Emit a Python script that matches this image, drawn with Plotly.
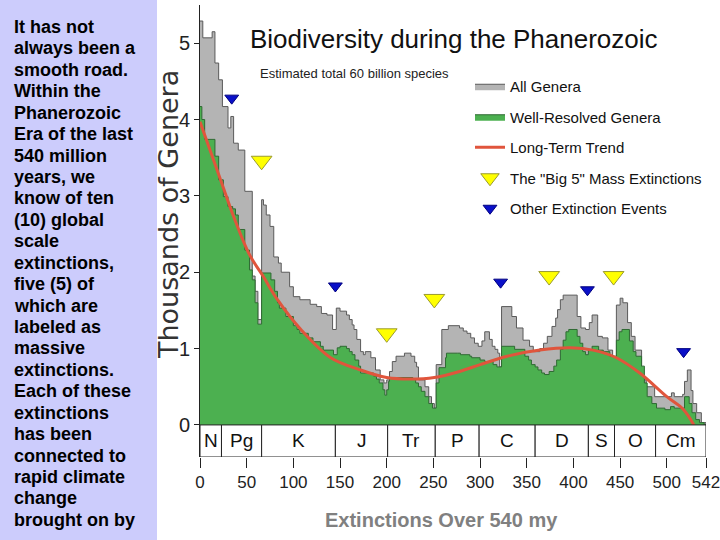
import plotly.graph_objects as go

# ---------------- data (ages in millions of years ago, values in thousands of genera)
all_age = [0, 3, 13, 16, 20, 24, 30, 33, 36, 41, 48, 56, 59, 62, 66, 68, 71, 75, 79, 84, 87, 96,
           100, 107, 118, 125, 130, 136, 142, 146, 150, 157, 160, 163, 165, 168, 172, 175, 177, 183,
           188, 193, 197, 200, 203, 206, 210, 219, 226, 230, 232, 234, 241, 245, 248, 251, 253, 259,
           266, 278, 282, 286, 290, 294, 298, 302, 305, 310, 313, 316, 319, 321, 323, 334, 339, 346,
           353, 357, 364, 368, 372, 377, 381, 383, 386, 389, 404, 408, 413, 417, 420, 426, 431, 437,
           442, 446, 450, 453, 458, 462, 466, 473, 478, 487, 500, 505, 508, 517, 519, 522, 526, 528,
           532, 537, 542]
all_val = [5.29, 5.07, 5.15, 4.74, 4.52, 4.17, 3.89, 4.04, 3.69, 3.60, 3.06, 1.95, 1.75, 1.38, 2.95,
           2.88, 2.75, 2.60, 2.20, 2.12, 2.00, 1.81, 1.68, 1.64, 1.58, 1.55, 1.46, 1.44, 1.25, 1.53,
           1.49, 1.44, 1.38, 1.31, 1.25, 1.12, 0.96, 0.92, 0.96, 0.88, 0.72, 0.59, 0.55, 0.59, 0.70,
           0.83, 0.90, 0.94, 0.90, 0.82, 0.76, 0.59, 0.50, 0.37, 0.28, 0.22, 0.79, 1.25, 1.30, 1.27,
           1.23, 1.20, 1.14, 1.07, 1.03, 1.10, 1.22, 1.12, 1.03, 0.99, 0.94, 0.76, 1.55, 1.42, 1.27,
           1.11, 1.03, 0.96, 1.00, 1.07, 1.16, 1.29, 1.40, 1.51, 1.64, 1.70, 1.42, 1.27, 1.25, 1.34,
           1.44, 1.16, 1.14, 0.98, 0.76, 1.57, 1.66, 1.60, 1.34, 1.16, 0.98, 0.59, 0.50, 0.37, 0.37,
           0.42, 0.37, 0.40, 0.57, 0.72, 0.45, 0.28, 0.16, 0.03, 0.0]

well_age = [0, 2, 5, 16, 20, 25, 30, 35, 38, 41, 48, 53, 56, 59, 62, 66, 76, 80, 83, 85, 92, 100,
            104, 107, 116, 121, 129, 132, 143, 147, 150, 157, 160, 163, 166, 170, 172, 186, 189, 192,
            196, 198, 200, 202, 203, 228, 231, 234, 237, 241, 245, 249, 253, 256, 263, 264, 276, 279,
            289, 291, 300, 305, 314, 318, 323, 337, 348, 352, 355, 359, 362, 366, 369, 374, 379, 382,
            386, 389, 392, 395, 404, 407, 410, 413, 416, 420, 427, 432, 439, 446, 449, 452, 460, 464,
            467, 473, 476, 479, 484, 489, 498, 504, 508, 519, 524, 527, 531, 535, 540, 542]
well_val = [4.17, 4.00, 3.74, 3.52, 3.21, 2.99, 2.86, 2.83, 2.75, 2.56, 2.29, 2.03, 1.90, 1.60, 1.32,
            1.99, 1.90, 1.75, 1.60, 1.53, 1.42, 1.30, 1.25, 1.20, 1.14, 1.09, 1.03, 0.98, 0.92, 1.01,
            1.03, 1.00, 0.96, 0.92, 0.85, 0.77, 0.68, 0.64, 0.60, 0.55, 0.46, 0.39, 0.46, 0.57, 0.62,
            0.60, 0.55, 0.50, 0.44, 0.37, 0.28, 0.22, 0.55, 0.75, 0.88, 0.94, 0.94, 0.92, 0.90, 0.88,
            0.85, 0.83, 0.79, 0.76, 1.03, 0.99, 0.90, 0.85, 0.79, 0.76, 0.72, 0.68, 0.66, 0.70, 0.77,
            0.85, 0.99, 1.11, 1.22, 1.25, 1.16, 1.07, 0.96, 0.92, 0.98, 1.03, 0.98, 0.96, 0.90, 1.11,
            1.22, 1.25, 1.10, 0.96, 0.90, 0.77, 0.55, 0.37, 0.28, 0.22, 0.20, 0.24, 0.22, 0.37, 0.28,
            0.16, 0.07, 0.03, 0.0, 0.0]

trend_age = [0, 22, 36, 53, 68, 83, 108, 140, 172, 200, 225, 251, 278, 300, 329, 364, 397, 421,
             446, 471, 500, 518, 529]
trend_val = [3.97, 3.21, 2.73, 2.23, 1.94, 1.64, 1.25, 0.88, 0.72, 0.62, 0.60, 0.62, 0.70, 0.79,
             0.90, 0.98, 1.01, 0.98, 0.88, 0.68, 0.37, 0.20, 0.0]

big5_age = [66, 200, 251, 374, 443]
big5_val = [3.46, 1.20, 1.65, 1.95, 1.95]

other_age = [34, 145, 322, 415, 518]
other_val = [4.28, 1.82, 1.87, 1.77, 0.96]

period_names = ["N", "Pg", "K", "J", "Tr", "P", "C", "D", "S", "O", "Cm"]
period_bounds = [0, 23, 66, 145, 201, 252, 299, 359, 416, 444, 488, 542]

x_ticks = [0, 50, 100, 150, 200, 250, 300, 350, 400, 450, 500, 542]
y_ticks = [0, 1, 2, 3, 4, 5]

left_lines = ["It has not", "always been a", "smooth road.", "Within the", "Phanerozoic",
              "Era of the last", "540 million", "years, we", "know of ten", "(10) global",
              "scale", "extinctions,", "five (5) of", "which are", "labeled as", "massive",
              "extinctions.", "Each of these", "extinctions", "has been", "connected to",
              "rapid climate", "change", "brought on by"]

# ---------------- layout helpers (pixel -> paper)
W, H = 720, 540
L, R, T, B = 200, 706, 5, 457
def pxx(x):
    return (x - L) / (R - L)
def pxy(y):
    return (B - y) / (B - T)

NARROW = "Liberation Sans, Arial, sans-serif"
ARIAL = "Liberation Sans, Arial, sans-serif"

fig = go.Figure()
fig.add_trace(go.Scatter(x=all_age, y=all_val, mode="lines", line_shape="hv", fill="tozeroy",
                         fillcolor="#b4b4b4", line=dict(color="#5a5a5a", width=1),
                         name="All Genera", legendgroup="a"))
fig.add_trace(go.Scatter(x=well_age, y=well_val, mode="lines", line_shape="hv", fill="tozeroy",
                         fillcolor="#4cb050", line=dict(color="#2f6a33", width=1),
                         name="Well-Resolved Genera", legendgroup="b"))
fig.add_trace(go.Scatter(x=trend_age, y=trend_val, mode="lines", line_shape="spline",
                         line=dict(color="#e0553c", width=3),
                         name="Long-Term Trend", legendgroup="c"))
fig.add_trace(go.Scatter(x=big5_age, y=big5_val, mode="markers",
                         marker=dict(symbol="triangle-down", size=18, color="#ffff00",
                                     line=dict(color="#9a9a30", width=1)),
                         name='The "Big 5" Mass Extinctions', legendgroup="d"))
fig.add_trace(go.Scatter(x=other_age, y=other_val, mode="markers",
                         marker=dict(symbol="triangle-down", size=12, color="#0a10c8",
                                     line=dict(color="#000080", width=1)),
                         name="Other Extinction Events", legendgroup="e"))

shapes = []
# left panel background
shapes.append(dict(type="rect", xref="paper", yref="paper", x0=pxx(0), x1=pxx(157),
                   y0=pxy(540), y1=pxy(0), fillcolor="#ccccfc", line=dict(width=0), layer="below"))
# period band
for i, name in enumerate(period_names):
    shapes.append(dict(type="rect", xref="x", yref="y", x0=period_bounds[i], x1=period_bounds[i + 1],
                       y0=-0.42, y1=0, fillcolor="white", line=dict(color="#222222", width=1)))

annotations = []
for i, name in enumerate(period_names):
    annotations.append(dict(x=(period_bounds[i] + period_bounds[i + 1]) / 2, y=-0.21, xref="x", yref="y",
                            text=name, showarrow=False, font=dict(family=NARROW, size=19, color="#111"),
                            xanchor="center", yanchor="middle"))

for i, line in enumerate(left_lines):
    y = 27 + i * 21.43
    annotations.append(dict(x=pxx(12), y=pxy(y), xref="paper", yref="paper", text="<b>%s</b>" % line,
                            showarrow=False, xanchor="left", yanchor="middle",
                            font=dict(family=ARIAL, size=18, color="#000")))

annotations.append(dict(x=pxx(454), y=pxy(39), xref="paper", yref="paper",
                        text="Biodiversity during the Phanerozoic", showarrow=False,
                        xanchor="center", yanchor="middle",
                        font=dict(family=NARROW, size=26, color="#111")))
annotations.append(dict(x=pxx(258), y=pxy(73), xref="paper", yref="paper",
                        text="Estimated total 60 billion species", showarrow=False,
                        xanchor="left", yanchor="middle",
                        font=dict(family=ARIAL, size=13, color="#222")))
annotations.append(dict(x=pxx(441), y=pxy(520), xref="paper", yref="paper",
                        text="<b>Extinctions Over 540 my</b>", showarrow=False,
                        xanchor="center", yanchor="middle",
                        font=dict(family=ARIAL, size=20, color="#808080")))
annotations.append(dict(x=pxx(169), y=pxy(215), xref="paper", yref="paper",
                        text="Thousands of Genera", showarrow=False, textangle=-90,
                        xanchor="center", yanchor="middle",
                        font=dict(family="DejaVu Sans, Verdana, sans-serif", size=27, color="#333")))

fig.update_layout(
    width=W, height=H,
    margin=dict(l=L, r=W - R, t=T, b=H - B, pad=0, autoexpand=False),
    paper_bgcolor="white", plot_bgcolor="white",
    shapes=shapes, annotations=annotations,
    showlegend=True,
    legend=dict(x=pxx(470), y=pxy(70), xanchor="left", yanchor="top",
                font=dict(family=NARROW, size=15, color="#111"),
                bgcolor="rgba(0,0,0,0)", tracegroupgap=8, traceorder="grouped"),
)
fig.update_xaxes(range=[0, 542], tickvals=x_ticks, ticktext=[str(v) for v in x_ticks],
                 ticks="outside", ticklen=10, tickcolor="#222", showgrid=False, zeroline=False,
                 showline=False, tickangle=0, automargin=False, ticklabeloverflow="allow",
                 tickfont=dict(family=NARROW, size=17, color="#222"))
fig.update_yaxes(range=[-0.42, 5.5], tickvals=y_ticks, ticks="outside", ticklen=5, tickcolor="#222",
                 showgrid=False, zeroline=False, showline=True, linecolor="#222", linewidth=1,
                 automargin=False, tickfont=dict(family=NARROW, size=20, color="#222"))

fig.write_html("out.html", config={"displayModeBar": False},
               post_script="document.body.style.margin='0';document.body.style.padding='0';")
